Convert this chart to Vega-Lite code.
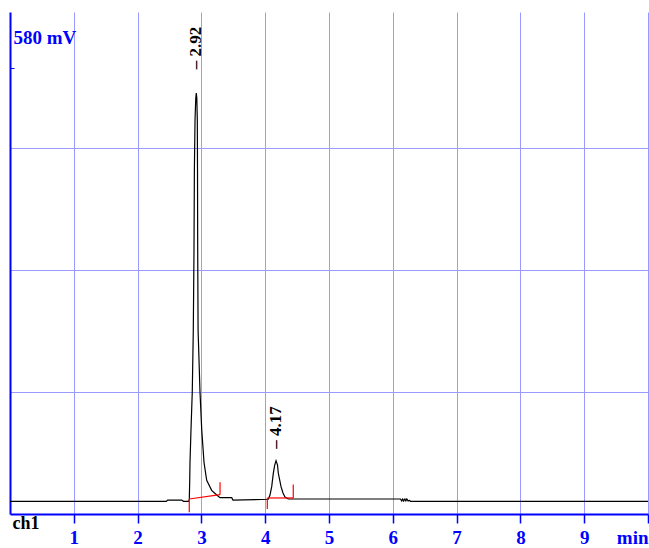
{
  "$schema": "https://vega.github.io/schema/vega-lite/v6.json",
  "width": 638,
  "height": 502,
  "autosize": {"type": "none"},
  "padding": {"left": 10, "top": 12, "right": 1, "bottom": 34},
  "background": "white",
  "config": {"view": {"stroke": null}, "font": "Liberation Serif"},
  "datasets": {
    "signal": [
      {"t": 0, "mV": 0}, {"t": 2.45, "mV": 0}, {"t": 2.47, "mV": 1.5}, {"t": 2.69, "mV": 1.5}, {"t": 2.72, "mV": 0},
      {"t": 2.80, "mV": 0}, {"t": 2.81, "mV": 2}, {"t": 2.817, "mV": 25}, {"t": 2.821, "mV": 45}, {"t": 2.837, "mV": 85},
      {"t": 2.857, "mV": 130}, {"t": 2.873, "mV": 203}, {"t": 2.884, "mV": 298}, {"t": 2.89, "mV": 393}, {"t": 2.90, "mV": 452},
      {"t": 2.912, "mV": 478}, {"t": 2.92, "mV": 484}, {"t": 2.928, "mV": 478}, {"t": 2.936, "mV": 452}, {"t": 2.939, "mV": 393},
      {"t": 2.942, "mV": 298}, {"t": 2.948, "mV": 203}, {"t": 2.978, "mV": 130}, {"t": 3.005, "mV": 85}, {"t": 3.041, "mV": 46},
      {"t": 3.083, "mV": 25}, {"t": 3.161, "mV": 13}, {"t": 3.24, "mV": 7.5}, {"t": 3.292, "mV": 4.3}, {"t": 3.475, "mV": 4.3},
      {"t": 3.495, "mV": 1.5}, {"t": 4.049, "mV": 2.5}, {"t": 4.075, "mV": 7.5}, {"t": 4.102, "mV": 17.4}, {"t": 4.127, "mV": 33.2},
      {"t": 4.149, "mV": 43}, {"t": 4.17, "mV": 48.2}, {"t": 4.193, "mV": 43}, {"t": 4.205, "mV": 33.6}, {"t": 4.248, "mV": 17.4},
      {"t": 4.279, "mV": 9.9}, {"t": 4.31, "mV": 5.1}, {"t": 4.362, "mV": 2.8}, {"t": 6.12, "mV": 2.8}, {"t": 6.14, "mV": 0.5},
      {"t": 6.155, "mV": 2.8}, {"t": 6.17, "mV": 0.5}, {"t": 6.19, "mV": 2.8}, {"t": 6.205, "mV": 0.5}, {"t": 6.22, "mV": 2.8},
      {"t": 6.24, "mV": 0.5}, {"t": 6.26, "mV": 1}, {"t": 6.28, "mV": 0}, {"t": 10, "mV": 0}
    ],
    "integration": [
      {"seg": "p1base", "i": 0, "t": 2.81, "mV": 2.8}, {"seg": "p1base", "i": 1, "t": 3.292, "mV": 7.9},
      {"seg": "p1start", "i": 0, "t": 2.81, "mV": 2.8}, {"seg": "p1start", "i": 1, "t": 2.81, "mV": -13},
      {"seg": "p1end", "i": 0, "t": 3.292, "mV": 7.9}, {"seg": "p1end", "i": 1, "t": 3.292, "mV": 22.5},
      {"seg": "p2base", "i": 0, "t": 4.033, "mV": 4}, {"seg": "p2base", "i": 1, "t": 4.44, "mV": 4},
      {"seg": "p2start", "i": 0, "t": 4.033, "mV": 4}, {"seg": "p2start", "i": 1, "t": 4.033, "mV": -9},
      {"seg": "p2end", "i": 0, "t": 4.44, "mV": 4}, {"seg": "p2end", "i": 1, "t": 4.44, "mV": 20}
    ],
    "peaks": [
      {"t": 2.92, "mV": 498, "label": "– 2.92"},
      {"t": 4.17, "mV": 48.2, "label": "– 4.17"}
    ]
  },
  "encoding": {
    "x": {
      "field": "t", "type": "quantitative",
      "scale": {"domain": [0, 10], "nice": false, "zero": false},
      "axis": {
        "values": [1, 2, 3, 4, 5, 6, 7, 8, 9, 10],
        "title": "ch1",
        "titleColor": "black",
        "titleFont": "Liberation Serif",
        "titleFontSize": 18,
        "titleFontWeight": "bold",
        "titleAnchor": "start",
        "titleAlign": "left",
        "titleBaseline": "alphabetic",
        "titleX": 2,
        "titleY": 14,
        "grid": true,
        "gridColor": "#9a9aff",
        "gridWidth": 1,
        "domainColor": "#0000ff",
        "domainWidth": 2,
        "tickColor": "#0000ff",
        "tickWidth": 1.5,
        "tickSize": 9,
        "labelPadding": 5,
        "labelColor": "#0000ff",
        "labelFont": "Liberation Serif",
        "labelFontSize": 19,
        "labelFontWeight": "bold",
        "labelFlush": false,
        "labelOverlap": false,
        "labelExpr": "datum.value == 10 ? 'min' : datum.label",
        "labelAlign": {"condition": {"test": "datum.value == 10", "value": "right"}, "value": "center"}
      }
    },
    "y": {
      "field": "mV", "type": "quantitative",
      "scale": {"domain": [-15, 580], "nice": false, "zero": false},
      "axis": {
        "values": [129.6, 274.2, 418.8, 513.6],
        "labels": false,
        "title": "580 mV",
        "titleColor": "#0000ff",
        "titleFont": "Liberation Serif",
        "titleFontSize": 19,
        "titleFontWeight": "bold",
        "titleAngle": 0,
        "titleAlign": "left",
        "titleBaseline": "alphabetic",
        "titleX": 3,
        "titleY": 31,
        "grid": true,
        "gridColor": "#9a9aff",
        "gridWidth": 1,
        "gridOpacity": {"condition": {"test": "datum.value > 500", "value": 0}, "value": 1},
        "domainColor": "#0000ff",
        "domainWidth": 2,
        "tickColor": "#0000ff",
        "tickWidth": 1,
        "tickSize": -4,
        "tickOpacity": {"condition": {"test": "datum.value > 500", "value": 1}, "value": 0}
      }
    }
  },
  "layer": [
    {
      "data": {"name": "signal"},
      "mark": {"type": "line", "color": "black", "strokeWidth": 1.2},
      "encoding": {}
    },
    {
      "data": {"name": "integration"},
      "mark": {"type": "line", "color": "#ff0000", "strokeWidth": 1.2},
      "encoding": {"detail": {"field": "seg"}, "order": {"field": "i"}}
    },
    {
      "data": {"name": "peaks"},
      "mark": {"type": "text", "angle": 270, "align": "left", "baseline": "middle", "dx": 12, "fontSize": 17, "fontWeight": "bold", "font": "Liberation Serif", "color": "black"},
      "encoding": {"text": {"field": "label"}}
    }
  ]
}
